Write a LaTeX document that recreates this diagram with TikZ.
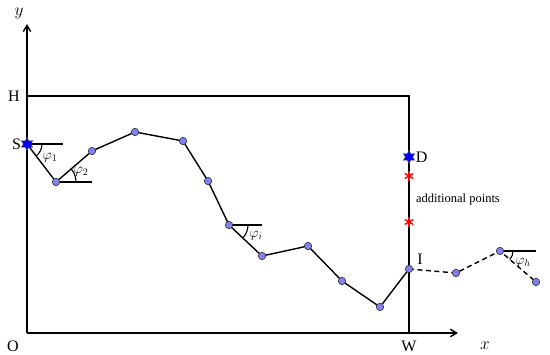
\documentclass[tikz,border=0pt]{standalone}
\usepackage{fontspec}
\setmainfont{Liberation Serif}
\usetikzlibrary{arrows.meta,shapes.geometric,calc,positioning}
\definecolor{ptfill}{RGB}{128,128,240}

\tikzset{
  pt/.style={circle,draw=black!80,fill=ptfill,inner sep=0pt,minimum size=7.5pt,line width=0.6pt},
  endpt/.style={star,star points=6,star point ratio=1.8,fill=blue,draw=black!70,inner sep=0pt,minimum size=13pt,line width=0.5pt},
  lbl/.style={font=\fontsize{16}{16}\selectfont},
  ang/.style={font=\fontsize{14.5}{14.5}\selectfont},
}

\begin{document}
\begin{tikzpicture}[x=1pt,y=1pt,line width=1.4pt,>={Straight Barb[length=2.2mm,width=2.6mm]}]
  \useasboundingbox (0,0) rectangle (550,355);
  \coordinate (O) at (27,22);
  \coordinate (Wb) at (409,22);
  \coordinate (Ht) at (27,259);
  \coordinate (Wt) at (409,259);
  % axes
  \draw[->] (O)--(27,331);
  \draw[->] (O)--(458,22);
  \node[lbl] at (19,342){$y$};
  \node[lbl] at (485,9){$x$};
  \draw[line width=1.1pt] (Ht)--(Wt)--(Wb);
  \node[lbl] at (13,9){O};
  \node[lbl] at (14,259){H};
  \node[lbl] at (409,9){W};
  % path
  \coordinate (S) at (27,211);
  \coordinate (D) at (409,198);
  \coordinate (P1) at (56,173);
  \coordinate (P2) at (92,204);
  \coordinate (P3) at (135,223);
  \coordinate (P4) at (183,214);
  \coordinate (P5) at (208,174);
  \coordinate (P6) at (229,130);
  \coordinate (P7) at (262,99);
  \coordinate (P8) at (308,109);
  \coordinate (P9) at (342,74);
  \coordinate (P10) at (380,48);
  \coordinate (I) at (409,86);
  \coordinate (Q1) at (456,82);
  \coordinate (Q2) at (500,104);
  \coordinate (Q3) at (536,73);
  \draw (S)--(P1)--(P2)--(P3)--(P4)--(P5)--(P6)--(P7)--(P8)--(P9)--(P10)--(I);
  \draw[dashed,dash pattern=on 5pt off 3.5pt] (I)--(Q1)--(Q2)--(Q3);
  % horizontals and angles
  \draw (S)--++(36,0);
  \draw (P1)--++(36,0);
  \draw (P6)--++(33,0);
  \draw (Q2)--++(36,0);
  \draw[line width=1.1pt] ($(S)+(15,0)$) arc (0:-52.6:15);
  \draw[line width=1.1pt] ($(P1)+(20,0)$) arc (0:40.7:20);
  \draw[line width=1.1pt] ($(P6)+(19,0)$) arc (0:-43:19);
  \draw[line width=1.1pt] ($(Q2)+(13,0)$) arc (0:-40.7:13);
  \node[ang] at (50,197){$\varphi_1$};
  \node[ang] at (81,183){$\varphi_2$};
  \node[ang] at (256,119){$\varphi_i$};
  \node[ang] at (523,92){$\varphi_h$};
  % points
  \foreach \p in {P1,P2,P3,P4,P5,P6,P7,P8,P9,P10,I,Q1,Q2,Q3}
    \node[pt] at (\p){};
  \node[endpt] (s) at (S){};
  \node[endpt] (d) at (D){};
  \node[lbl,left=-2pt of s]{S};
  \node[lbl,right=-1pt of d]{D};
  \node[lbl] at (420,96){I};
  % additional points
  \foreach \yy in {179,133}
    \foreach \a in {90,30,150}
      \draw[red,line width=1.4pt] (409,\yy)++(\a:5)--++(\a+180:10);
  \node[font=\fontsize{12.5}{12.5}\selectfont] at (458,155){additional points};
\end{tikzpicture}
\end{document}
